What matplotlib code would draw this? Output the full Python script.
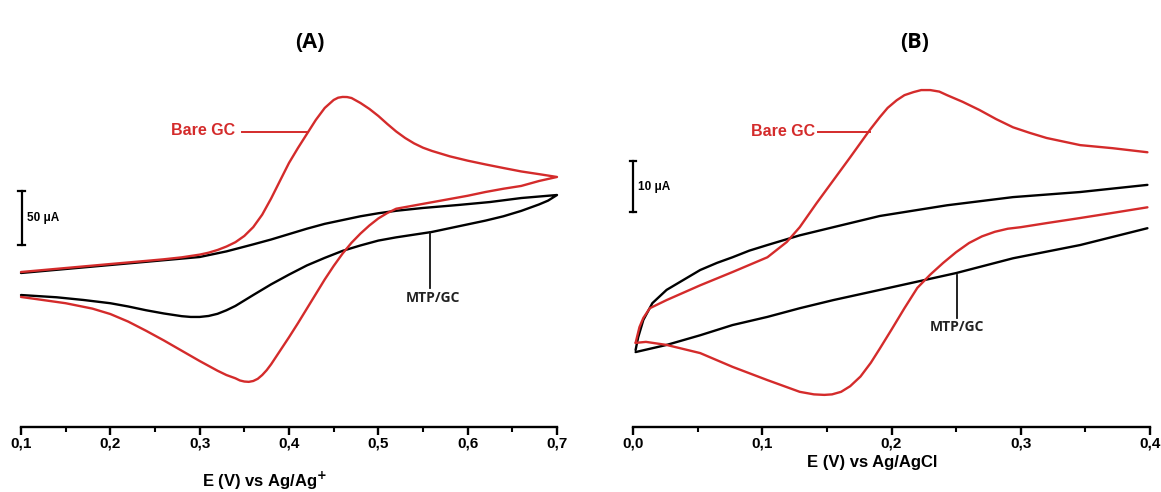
import numpy as np
import matplotlib.pyplot as plt
from matplotlib.ticker import MultipleLocator

# ---- (A) CV, potential vs Ag/Ag+ (current in uA) ----
a_bare_fwd_v = [0.10, 0.15, 0.20, 0.24, 0.26, 0.28, 0.30, 0.31, 0.32, 0.33, 0.34, 0.35, 0.36,
                0.37, 0.38, 0.39, 0.40, 0.41, 0.42, 0.43, 0.44, 0.45, 0.455, 0.46, 0.465,
                0.47, 0.48, 0.49, 0.50, 0.51, 0.52, 0.53, 0.54, 0.55, 0.56, 0.58, 0.60,
                0.62, 0.64, 0.66, 0.68, 0.70]
a_bare_fwd_i = [25.9, 29.6, 33.3, 36.2, 37.7, 39.5, 42.0, 43.8, 46.3, 49.5, 53.5, 59.3, 67.5,
                79.0, 94.0, 110.5, 126.9, 140.7, 153.7, 166.7, 177.8, 185.2, 187.3, 188.0, 187.9,
                187.0, 182.4, 176.9, 170.4, 163.0, 156.0, 150.0, 145.0, 141.0, 138.0, 133.0, 129.0,
                125.5, 122.2, 119.0, 116.5, 113.9]
a_bare_rev_v = [0.70, 0.68, 0.66, 0.64, 0.62, 0.60, 0.58, 0.56, 0.54, 0.52, 0.51, 0.50,
                0.49, 0.48, 0.47, 0.46, 0.45, 0.44, 0.43, 0.42, 0.41, 0.40, 0.39, 0.38,
                0.375, 0.37, 0.365, 0.36, 0.355, 0.35, 0.345, 0.34, 0.33, 0.32, 0.31, 0.30,
                0.28, 0.26, 0.24, 0.22, 0.20, 0.18, 0.15, 0.12, 0.10]
a_bare_rev_i = [113.9, 110.2, 105.6, 103.0, 100.0, 96.5, 93.5, 90.5, 87.5, 84.5, 80.5, 75.5,
                69.0, 61.5, 53.0, 43.0, 31.5, 19.0, 5.5, -8.0, -21.5, -34.5, -47.0, -59.5,
                -65.0, -69.5, -73.0, -75.0, -75.8, -75.5, -74.5, -72.5, -69.5, -65.5, -61.0, -56.5,
                -47.0, -37.5, -28.5, -20.0, -13.0, -8.0, -3.0, 0.5, 2.8]

a_mtp_fwd_v = [0.10, 0.15, 0.20, 0.25, 0.30, 0.33, 0.36, 0.38, 0.40, 0.42, 0.44, 0.46,
               0.48, 0.50, 0.52, 0.55, 0.59, 0.625, 0.66, 0.70]
a_mtp_fwd_i = [25.0, 28.7, 32.4, 36.1, 39.8, 45.0, 51.5, 56.0, 61.0, 66.0, 70.5, 74.0,
               77.5, 80.3, 82.6, 85.2, 88.0, 90.7, 94.4, 97.2]
a_mtp_rev_v = [0.70, 0.69, 0.68, 0.66, 0.64, 0.62, 0.60, 0.58, 0.56, 0.54, 0.52, 0.50,
               0.48, 0.46, 0.44, 0.42, 0.40, 0.38, 0.36, 0.34, 0.33, 0.32, 0.31, 0.30,
               0.29, 0.28, 0.26, 0.24, 0.22, 0.20, 0.17, 0.14, 0.10]
a_mtp_rev_i = [97.2, 92.0, 88.5, 82.5, 77.5, 73.5, 70.0, 66.5, 63.0, 60.5, 58.0, 55.0,
               50.5, 45.5, 39.0, 32.0, 23.5, 14.5, 4.6, -5.5, -9.5, -12.8, -14.8, -15.7,
               -15.7, -15.0, -12.5, -9.5, -6.0, -3.0, 0.0, 2.5, 4.6]

# ---- (B) CV, potential vs Ag/AgCl (current in uA) ----
b_bare_fwd_v = [0.002, 0.005, 0.008, 0.013, 0.026, 0.052, 0.077, 0.104, 0.119, 0.129, 0.142,
                0.155, 0.168, 0.183, 0.191, 0.197, 0.204, 0.210, 0.217, 0.223, 0.230, 0.237,
                0.243, 0.255, 0.268, 0.281, 0.294, 0.307, 0.320, 0.346, 0.371, 0.398]
b_bare_fwd_i = [1.4, 4.5, 6.3, 8.2, 9.8, 12.7, 15.3, 18.2, 21.2, 24.1, 28.8,
                33.3, 37.8, 43.1, 45.7, 47.5, 49.0, 50.0, 50.6, 51.0, 51.0, 50.7,
                50.0, 48.7, 47.1, 45.3, 43.7, 42.6, 41.6, 40.2, 39.6, 38.8]
b_bare_rev_v = [0.398, 0.371, 0.346, 0.320, 0.300, 0.290, 0.280, 0.270, 0.260, 0.250, 0.240,
                0.230, 0.220, 0.210, 0.200, 0.191, 0.184, 0.176, 0.168, 0.161, 0.154, 0.148,
                0.140, 0.129, 0.104, 0.077, 0.052, 0.026, 0.010, 0.002]
b_bare_rev_i = [28.0, 26.9, 25.9, 24.9, 24.1, 23.8, 23.2, 22.3, 21.0, 19.2, 17.1,
                14.8, 12.2, 8.2, 4.0, 0.3, -2.5, -5.2, -7.1, -8.2, -8.7, -8.8,
                -8.7, -8.2, -5.9, -3.3, -0.6, 1.0, 1.6, 1.4]

b_mtp_fwd_v = [0.002, 0.004, 0.008, 0.015, 0.026, 0.040, 0.052, 0.065, 0.077, 0.090, 0.104,
               0.129, 0.155, 0.191, 0.243, 0.294, 0.346, 0.398]
b_mtp_fwd_i = [0.0, 2.5, 5.9, 9.2, 11.8, 13.9, 15.7, 17.1, 18.2, 19.5, 20.6,
               22.5, 24.1, 26.3, 28.4, 30.0, 31.0, 32.4]
b_mtp_rev_v = [0.398, 0.346, 0.294, 0.250, 0.225, 0.191, 0.155, 0.129, 0.104, 0.077, 0.052,
               0.026, 0.002]
b_mtp_rev_i = [23.9, 20.6, 18.0, 15.1, 13.7, 11.8, 9.8, 8.2, 6.5, 4.9, 2.9,
               1.0, -0.4]

a_ticks = [0.1, 0.2, 0.3, 0.4, 0.5, 0.6, 0.7]
a_ticklabels = ["0,1", "0,2", "0,3", "0,4", "0,5", "0,6", "0,7"]
b_ticks = [0.0, 0.1, 0.2, 0.3, 0.4]
b_ticklabels = ["0,0", "0,1", "0,2", "0,3", "0,4"]

RED = "#d42b2b"
ARIAL = "Liberation Sans"
CALIBRI = "Open Sans"

W, H = 1161, 492
fig = plt.figure(figsize=(W / 100, H / 100), dpi=100)


def px_rect(x0, x1, ybot, ytop):
    return [x0 / W, 1 - ybot / H, (x1 - x0) / W, (ybot - ytop) / H]


def style_axis(ax, ticks, labels):
    for side in ("left", "right", "top"):
        ax.spines[side].set_visible(False)
    ax.spines["bottom"].set_linewidth(1.7)
    ax.set_yticks([])
    ax.set_xticks(ticks)
    ax.set_xticklabels(labels, fontfamily=ARIAL, fontweight="bold", fontsize=11)
    ax.xaxis.set_minor_locator(MultipleLocator(0.05))
    ax.tick_params(axis="x", which="major", direction="out", length=6, width=1.7, pad=1)
    ax.tick_params(axis="x", which="minor", direction="out", length=3.5, width=1.5)
    ax.patch.set_alpha(0)


def branch(ax, v, i, color):
    ax.plot(v, i, color=color, lw=1.7, clip_on=False, solid_joinstyle="round",
            solid_capstyle="round")


def scale_bar(ax, x, lo, hi, dx):
    ax.plot([x, x], [lo, hi], color="k", lw=1.6, clip_on=False)
    for y in (lo, hi):
        ax.plot([x - dx, x + dx], [y, y], color="k", lw=1.6, clip_on=False)


# panel A: full loops closing at the switching potential
axa = fig.add_axes(px_rect(21, 557, 427, 60))
axa.set_xlim(0.1, 0.7)
axa.set_ylim(-117.6, 222.2)
style_axis(axa, a_ticks, a_ticklabels)
branch(axa, a_mtp_fwd_v + a_mtp_rev_v, a_mtp_fwd_i + a_mtp_rev_i, "black")
branch(axa, a_bare_fwd_v + a_bare_rev_v, a_bare_fwd_i + a_bare_rev_i, RED)

scale_bar(axa, 0.101, 51, 101, 0.004)
axa.text(0.1067, 76, "50 μA", fontfamily=ARIAL, fontweight="bold", fontsize=8.5,
         ha="left", va="center")

axa.text(0.340, 157, "Bare GC", color=RED, fontfamily=ARIAL, fontweight="bold",
         fontsize=11.5, ha="right", va="center")
axa.plot([0.347, 0.421], [155.5, 155.5], color=RED, lw=1.4)

axa.plot([0.558, 0.558], [63, 11], color="#111111", lw=1.3)
axa.text(0.561, 1.5, "MTP/GC", color="#222222", fontfamily=CALIBRI, fontweight="bold",
         fontsize=10, ha="center", va="center")

# panel B: switching vertex lies past the plotted range
axb = fig.add_axes(px_rect(633, 1150, 427, 60))
axb.set_xlim(0.0, 0.4)
axb.set_ylim(-15.1, 56.9)
style_axis(axb, b_ticks, b_ticklabels)
branch(axb, b_mtp_fwd_v, b_mtp_fwd_i, "black")
branch(axb, b_mtp_rev_v, b_mtp_rev_i, "black")
branch(axb, b_bare_fwd_v, b_bare_fwd_i, RED)
branch(axb, b_bare_rev_v, b_bare_rev_i, RED)

scale_bar(axb, 0.0, 27.1, 37.1, 0.0027)
axb.text(0.0039, 32, "10 μA", fontfamily=ARIAL, fontweight="bold", fontsize=8.5,
         ha="left", va="center")

axb.text(0.1408, 42.9, "Bare GC", color=RED, fontfamily=ARIAL, fontweight="bold",
         fontsize=11.5, ha="right", va="center")
axb.plot([0.1431, 0.1834], [42.7, 42.7], color=RED, lw=1.4)

axb.plot([0.2507, 0.2507], [14.7, 6.3], color="#111111", lw=1.3)
axb.text(0.2507, 4.5, "MTP/GC", color="#222222", fontfamily=CALIBRI, fontweight="bold",
         fontsize=10, ha="center", va="center")

# titles and axis labels
fig.text(310 / W, 1 - 42 / H, "(A)", fontfamily=CALIBRI, fontweight="bold", fontsize=15.5,
         ha="center", va="center")
fig.text(915 / W, 1 - 42 / H, "(B)", fontfamily=CALIBRI, fontweight="bold", fontsize=15.5,
         ha="center", va="center")
fig.text(265 / W, 1 - 481 / H, r"E (V) vs Ag/Ag$^{\mathbf{+}}$", fontfamily=ARIAL,
         fontweight="bold", fontsize=12, ha="center", va="center")
fig.text(872 / W, 1 - 462 / H, "E (V) vs Ag/AgCl", fontfamily=ARIAL, fontweight="bold",
         fontsize=12, ha="center", va="center")

fig.savefig("out.png", dpi=100, facecolor="white")
